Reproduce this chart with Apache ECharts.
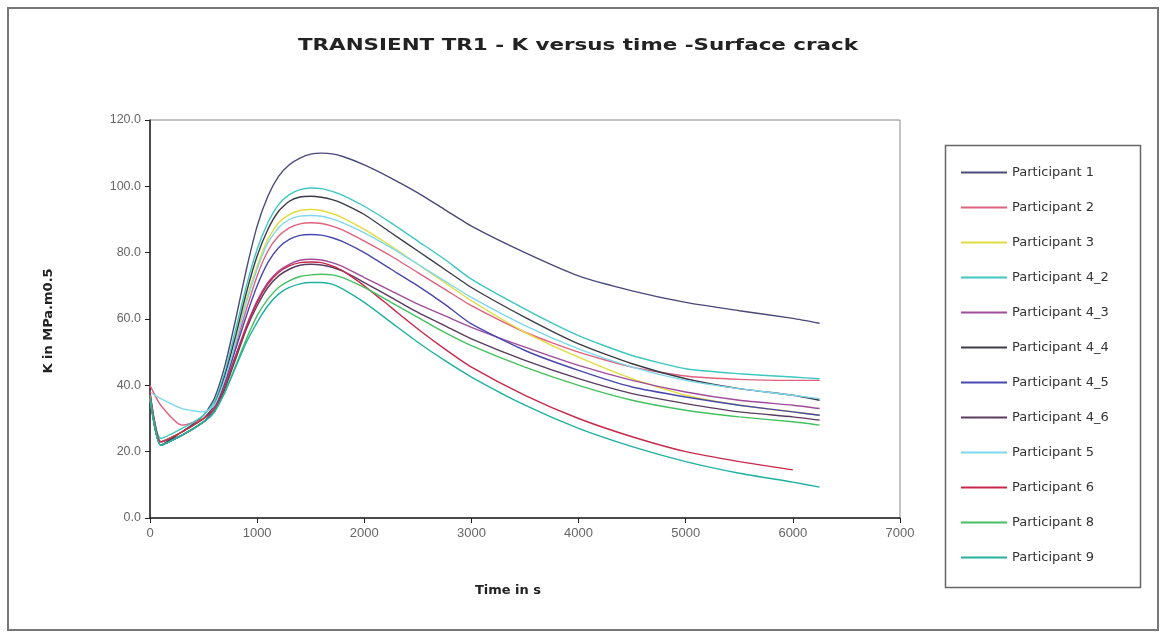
<!DOCTYPE html>
<html>
<head>
<meta charset="utf-8">
<script src="https://cdn.jsdelivr.net/npm/echarts@6/dist/echarts.min.js"></script>
<style>
html,body{margin:0;padding:0;background:#fff;}
#c{width:1165px;height:639px;}
</style>
</head>
<body>
<div id="c"></div>
<script>
// time (s)
const times = [0,100,300,500,600,700,800,900,1000,1100,1200,1300,1400,1500,1600,1700,1800,2000,2250,2500,2750,3000,3500,4000,4500,5000,5500,6000,6250];

const names = ["Participant 1","Participant 2","Participant 3","Participant 4_2","Participant 4_3","Participant 4_4","Participant 4_5","Participant 4_6","Participant 5","Participant 6","Participant 8","Participant 9"];

const p1   = [38,23,26,31,36,46,60,75,88,97,103,106.5,108.5,109.7,110,109.8,109,106.5,102.5,98,93,88,80,73,68.5,65,62.5,60.2,58.7];
const p2   = [40,34,28,30,33,41,52,63,73,80.5,85,87.5,88.7,89,88.8,88,86.8,83.5,79,74,69,64,56,50,45.5,42.8,41.8,41.5,41.5];
const p3   = [36,23,26,30,33,42,54,66,76,84,89,91.5,92.7,93,92.7,91.8,90.5,87,82,76.5,71,65.5,56,48.5,42,37,34,32,31];
const p4_2 = [36,24,27,31,35,44,57,70,81,89,94.5,97.5,99,99.5,99.3,98.5,97.3,94,89,83.5,78,72,63,55,49,45,43.5,42.5,42];
const p4_3 = [36,23,25,29,32,40,49,58,65.5,71,74.5,76.5,77.7,78,77.8,77,75.8,72.5,68.5,64.5,61,57.5,51.5,46,41.5,38,35.5,34,33];
const p4_4 = [37,22,26,30,34,43,55,68,79,87,92.5,95.5,96.8,97,96.7,96,94.8,91.5,86,80.5,75,69.5,60.5,52.5,46.5,42,39,37,35.5];
const p4_5 = [37,22,25,29,33,41,51,61,70,77,81.5,84,85.2,85.5,85.3,84.5,83.3,80,75,70,64.5,58.5,50.5,44.5,39.5,36.5,34,32,31];
const p4_6 = [37,22,25,29,32,39,48,57,64,69.5,73,75,76.2,76.5,76.3,75.6,74.4,71,66.5,62,58,54,47.5,42,37.5,34.5,32,30.5,29.5];
const p5   = [38,36,33,32,34,42,53,65,75,83,87.5,90,91,91.2,91,90.2,89,86,81.5,76.5,71.5,66.5,58,51,45.5,41.5,39,37,36];
const p6   = [38,23,26,30,33,40,49,57.5,65,70.5,74,76,77,77.2,77,76,74.5,70,63.5,57,51,45.5,37,30,24.5,20,17,14.5,null];
const p8   = [37,22,25,29,32,38,46,54,61,66,69.5,71.5,72.8,73.3,73.5,73.3,72.5,69.5,65,60.5,56,52,45.5,40,35.5,32.5,30.5,29,28];
const p9   = [36,22,25,29,32,38,45.5,53,59,64,67.5,69.5,70.6,71,71,70.5,69,65,59,53,47.5,42.5,34,27,21.5,17,13.5,10.8,9.3];

const values = [p1,p2,p3,p4_2,p4_3,p4_4,p4_5,p4_6,p5,p6,p8,p9];
const colors = ["#4a4a7a","#e0607e","#e2dc3c","#3cc8c0","#a04c9c","#3c3c48","#4848b0","#5a3c5e","#7cd8ec","#c8284a","#44c060","#20b0a0"];

const yTicks = [0,20,40,60,80,100,120];
const titleText = 'TRANSIENT TR1 - K versus time -Surface crack';

const series = names.map((n,k)=>({
  name:n,
  type:'line',
  symbol:'none',
  smooth:0.2,
  lineStyle:{width:1.4,color:colors[k]},
  itemStyle:{color:colors[k]},
  data:times.map((t,i)=>[t,values[k][i]]).filter(d=>d[1]!==null)
}));

// measure title to stretch it to the reference width
const cv = document.createElement('canvas').getContext('2d');
const titleFont = 'bold 15px "DejaVu Sans"';
cv.font = titleFont;
const titleScale = 560 / cv.measureText(titleText).width;

const chart = echarts.init(document.getElementById('c'));
chart.setOption({
  animation:false,
  backgroundColor:'#fff',
  graphic:[
    {type:'rect',shape:{x:8,y:8,width:1150,height:622},style:{fill:null,stroke:'#777',lineWidth:2},silent:true},
    {type:'rect',shape:{x:945.5,y:145.5,width:195,height:442},style:{fill:null,stroke:'#666',lineWidth:1.5},silent:true},
    {type:'text',x:578,y:46,scaleX:titleScale,style:{text:titleText,font:titleFont,fill:'#222',align:'center',verticalAlign:'middle'},silent:true},
    {type:'text',x:508,y:591,style:{text:'Time in s',font:'bold 13px "DejaVu Sans"',fill:'#222',align:'center',verticalAlign:'middle'},silent:true},
    {type:'text',x:49,y:321,rotation:Math.PI/2,style:{text:'K in MPa.m0.5',font:'bold 13px "DejaVu Sans"',fill:'#222',align:'center',verticalAlign:'middle'},silent:true}
  ],
  legend:{
    orient:'vertical',
    left:955, top:161,
    itemWidth:46, itemHeight:14, itemGap:22,
    itemStyle:{opacity:0},
    textStyle:{fontFamily:'DejaVu Sans',fontSize:13,color:'#333'},
    data:names
  },
  grid:{left:150,top:120,right:265,bottom:121,show:true,borderColor:'#888',borderWidth:1},
  xAxis:{
    type:'value',min:0,max:7000,interval:1000,
    axisLine:{show:true,onZero:false,lineStyle:{color:'#222',width:1.5}},
    axisTick:{show:true,length:5,lineStyle:{color:'#222'}},
    axisLabel:{fontFamily:'Liberation Sans, Arial',fontSize:13,color:'#666',margin:9,formatter:v=>String(v)},
    splitLine:{show:false}
  },
  yAxis:{
    type:'value',min:0,max:120,interval:20,
    axisLine:{show:true,lineStyle:{color:'#222',width:1.5}},
    axisTick:{show:true,length:5,lineStyle:{color:'#222'}},
    axisLabel:{fontFamily:'Liberation Sans, Arial',fontSize:12.5,color:'#666',margin:9,
      formatter:v=>yTicks.includes(v)?v.toFixed(1):''},
    splitLine:{show:false}
  },
  series:series
});
</script>
</body>
</html>
